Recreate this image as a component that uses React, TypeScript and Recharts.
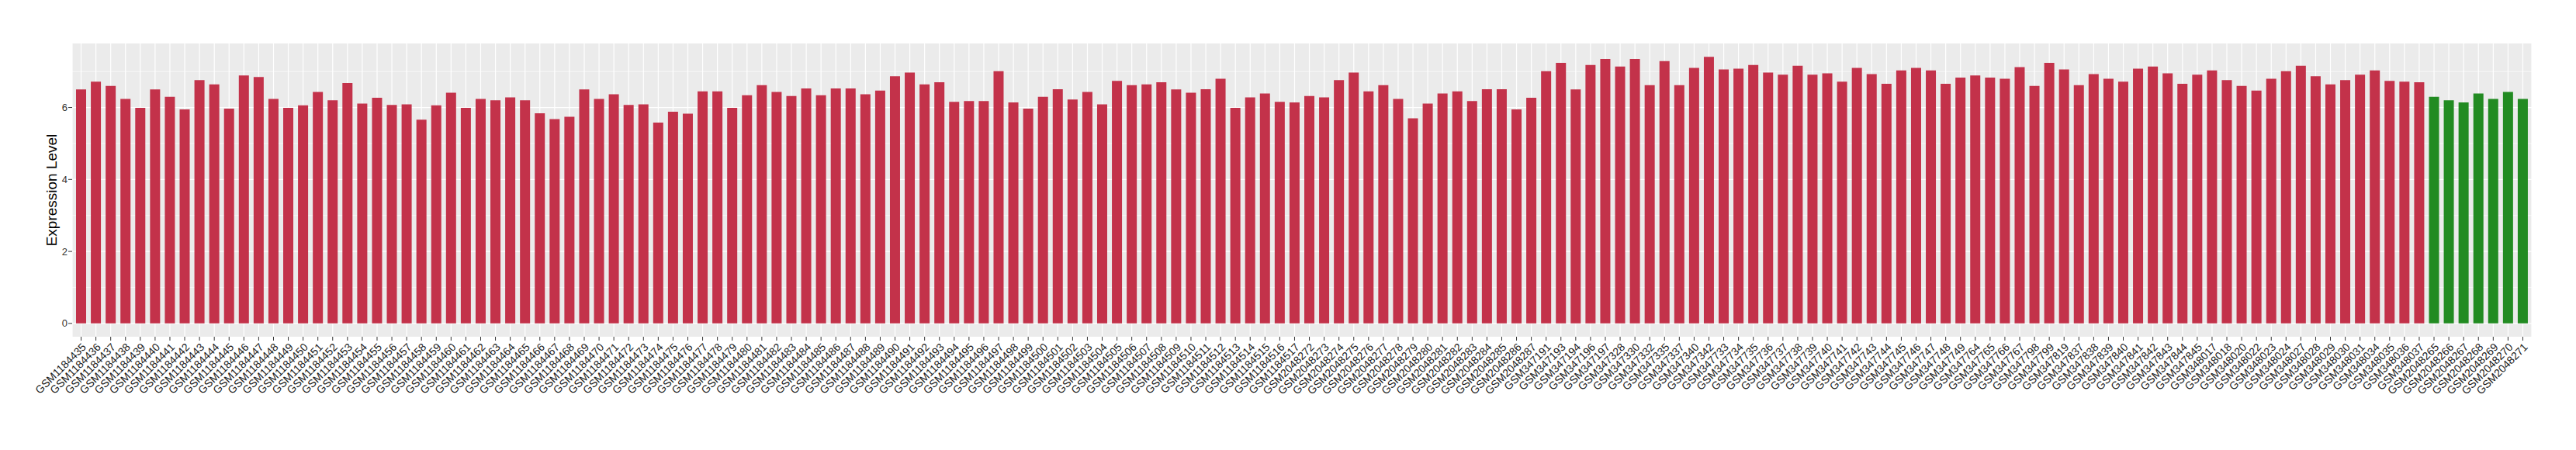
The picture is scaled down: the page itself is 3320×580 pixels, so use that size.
import React from "react";
import { BarChart, Bar, XAxis, YAxis, CartesianGrid, Cell } from "recharts";

// sample ids, left to right
const tumorSamples = [
  "GSM1184435", "GSM1184436", "GSM1184437", "GSM1184438", "GSM1184439", "GSM1184440", "GSM1184441", "GSM1184442",
  "GSM1184443", "GSM1184444", "GSM1184445", "GSM1184446", "GSM1184447", "GSM1184448", "GSM1184449", "GSM1184450",
  "GSM1184451", "GSM1184452", "GSM1184453", "GSM1184454", "GSM1184455", "GSM1184456", "GSM1184457", "GSM1184458",
  "GSM1184459", "GSM1184460", "GSM1184461", "GSM1184462", "GSM1184463", "GSM1184464", "GSM1184465", "GSM1184466",
  "GSM1184467", "GSM1184468", "GSM1184469", "GSM1184470", "GSM1184471", "GSM1184472", "GSM1184473", "GSM1184474",
  "GSM1184475", "GSM1184476", "GSM1184477", "GSM1184478", "GSM1184479", "GSM1184480", "GSM1184481", "GSM1184482",
  "GSM1184483", "GSM1184484", "GSM1184485", "GSM1184486", "GSM1184487", "GSM1184488", "GSM1184489", "GSM1184490",
  "GSM1184491", "GSM1184492", "GSM1184493", "GSM1184494", "GSM1184495", "GSM1184496", "GSM1184497", "GSM1184498",
  "GSM1184499", "GSM1184500", "GSM1184501", "GSM1184502", "GSM1184503", "GSM1184504", "GSM1184505", "GSM1184506",
  "GSM1184507", "GSM1184508", "GSM1184509", "GSM1184510", "GSM1184511", "GSM1184512", "GSM1184513", "GSM1184514",
  "GSM1184515", "GSM1184516", "GSM1184517",
  "GSM2048272", "GSM2048273", "GSM2048274", "GSM2048275", "GSM2048276", "GSM2048277", "GSM2048278", "GSM2048279",
  "GSM2048280", "GSM2048281", "GSM2048282", "GSM2048283", "GSM2048284", "GSM2048285", "GSM2048286", "GSM2048287",
  "GSM347191", "GSM347193", "GSM347194", "GSM347196", "GSM347197", "GSM347328", "GSM347330", "GSM347332",
  "GSM347335", "GSM347337", "GSM347340", "GSM347342",
  "GSM347733", "GSM347734", "GSM347735", "GSM347736", "GSM347737", "GSM347738", "GSM347739", "GSM347740",
  "GSM347741", "GSM347742", "GSM347743", "GSM347744", "GSM347745", "GSM347746", "GSM347747", "GSM347748",
  "GSM347749", "GSM347764", "GSM347765", "GSM347766", "GSM347767", "GSM347798", "GSM347799", "GSM347819",
  "GSM347837", "GSM347838", "GSM347839", "GSM347840", "GSM347841", "GSM347842", "GSM347843", "GSM347844",
  "GSM347845", "GSM348017", "GSM348018", "GSM348020", "GSM348022", "GSM348023", "GSM348024", "GSM348027",
  "GSM348028", "GSM348029", "GSM348030", "GSM348031", "GSM348034", "GSM348035", "GSM348036", "GSM348037",
];

const tumorValues = [
  6.50, 6.72, 6.60, 6.24, 5.99, 6.50, 6.30, 5.95, 6.76, 6.64, 5.97, 6.89, 6.85, 6.24, 5.99, 6.06,
  6.43, 6.20, 6.68, 6.11, 6.27, 6.07, 6.09, 5.66, 6.06, 6.41, 5.99, 6.24, 6.20, 6.28, 6.20, 5.84,
  5.68, 5.74, 6.50, 6.24, 6.37, 6.07, 6.09, 5.58, 5.88, 5.83, 6.45, 6.45, 5.99, 6.34, 6.62, 6.43,
  6.32, 6.53, 6.34, 6.53, 6.53, 6.37, 6.47, 6.87, 6.97, 6.64, 6.70, 6.16, 6.18, 6.18, 7.01, 6.14,
  5.97, 6.30, 6.51, 6.22, 6.43, 6.09, 6.74, 6.62, 6.64, 6.70, 6.50, 6.41, 6.51, 6.80, 5.99, 6.28,
  6.39, 6.16, 6.14,
  6.32, 6.28, 6.76, 6.97, 6.45, 6.62, 6.24, 5.70, 6.11, 6.39, 6.45, 6.18, 6.51, 6.51, 5.95, 6.27,
  7.01, 7.24, 6.50, 7.18, 7.35, 7.14, 7.35, 6.62, 7.29, 6.62, 7.10, 7.41,
  7.06, 7.08, 7.18, 6.97, 6.91, 7.16, 6.91, 6.95, 6.72, 7.10, 6.93, 6.66, 7.03, 7.10, 7.03, 6.66,
  6.83, 6.89, 6.83, 6.80, 7.12, 6.60, 7.24, 7.06,
  6.62, 6.93, 6.80, 6.72, 7.08, 7.14, 6.95, 6.66, 6.91, 7.03, 6.76, 6.60, 6.47, 6.80, 7.01, 7.16,
  6.87, 6.64, 6.76, 6.91, 7.03, 6.74, 6.72, 6.70,
];

const normalSamples = [
  "GSM2048265", "GSM2048266", "GSM2048267", "GSM2048268", "GSM2048269", "GSM2048270", "GSM2048271",
];
const normalValues = [6.30, 6.20, 6.14, 6.39, 6.24, 6.43, 6.24];

const yTicks = [0, 2, 4, 6];
const minorY = [1, 3, 5, 7];

const tumorColor = "#C3324A";
const normalColor = "#228B22";

const data = [
  ...tumorSamples.map((s, i) => ({ sample: s, value: tumorValues[i], group: "tumor" })),
  ...normalSamples.map((s, i) => ({ sample: s, value: normalValues[i], group: "normal" })),
];

const font = "'Liberation Sans', Arial, Helvetica, sans-serif";

const SampleTick = (props: any) => {
  const { x, y, payload } = props;
  return (
    <text
      x={x}
      y={y}
      dy="0.72em"
      textAnchor="end"
      transform={`rotate(-45 ${x} ${y})`}
      fontSize={14}
      fontFamily={font}
      fill="#1A1A1A"
    >
      {payload.value}
    </text>
  );
};

export default function App() {
  return (
    <div style={{ width: 3304, height: 564 }}>
      <BarChart
        width={3304}
        height={564}
        data={data}
        margin={{ top: 48, right: 49, bottom: 28, left: 0 }}
      >
        <CartesianGrid
          fill="#EBEBEB"
          stroke="#FFFFFF"
          strokeWidth={0.6}
          vertical={false}
          horizontalValues={minorY}
        />
        <CartesianGrid stroke="#FFFFFF" strokeWidth={1.2} horizontalValues={yTicks} />
        <XAxis
          dataKey="sample"
          interval={0}
          padding={{ left: 2, right: 2 }}
          axisLine={false}
          tickSize={5}
          tickMargin={2}
          tickLine={{ stroke: "#333333" }}
          tick={<SampleTick />}
          height={110}
        />
        <YAxis
          domain={[-0.37, 7.78]}
          ticks={yTicks}
          allowDataOverflow
          width={85}
          axisLine={false}
          tickSize={5}
          tickMargin={1}
          tickLine={{ stroke: "#333333" }}
          tick={{ fontSize: 13, fill: "#333333", fontFamily: font }}
          label={{
            content: () => (
              <text
                x={58}
                y={237}
                transform="rotate(-90 58 237)"
                textAnchor="middle"
                dominantBaseline="central"
                fontSize={19}
                fontFamily={font}
                fill="#000000"
              >
                Expression Level
              </text>
            ),
          }}
        />
        <Bar dataKey="value" barSize={13} isAnimationActive={false}>
          {data.map((d) => (
            <Cell key={d.sample} fill={d.group === "tumor" ? tumorColor : normalColor} />
          ))}
        </Bar>
      </BarChart>
    </div>
  );
}
